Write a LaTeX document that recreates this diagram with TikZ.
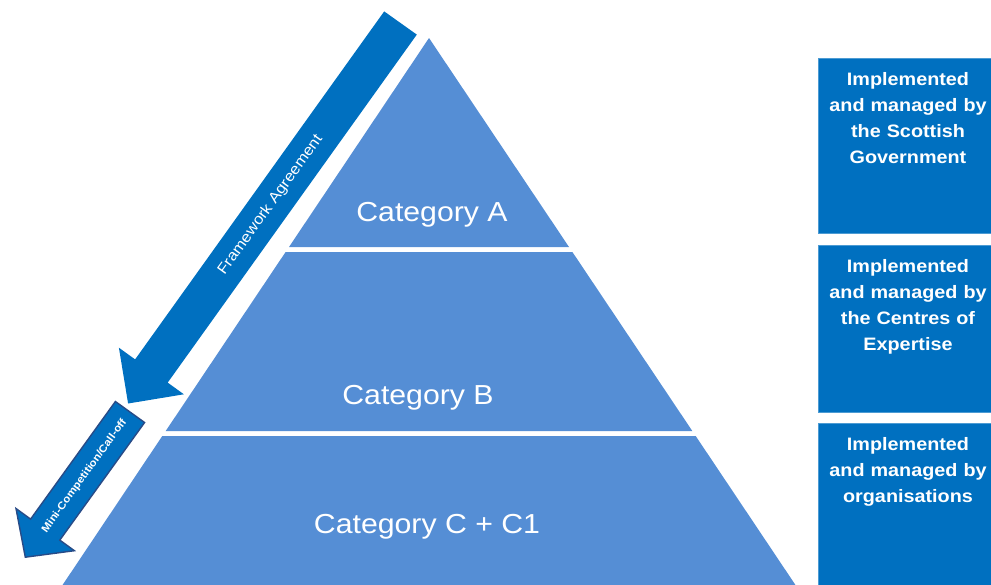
\documentclass[tikz,border=0pt]{standalone}
\usepackage{fontspec}
\setmainfont{Liberation Sans}[FakeStretch=1.1]
\definecolor{pyr}{RGB}{85,142,213}
\definecolor{dblue}{RGB}{0,112,192}
\definecolor{edgeblue}{RGB}{40,75,135}
\tikzset{
  tier/.style={fill=pyr, draw=none},
  bigarrow/.style={fill=dblue, draw=none},
  smallarrow/.style={fill=dblue, draw=edgeblue, line width=1.4pt, line join=miter},
  sidebox/.style={fill=dblue, draw=dblue!70!white, line width=0.6pt},
  cattext/.style={text=white, font=\fontsize{27.5}{30}\selectfont, inner sep=0pt},
  boxtext/.style={text=white, font=\fontsize{18}{26}\selectfont\bfseries, align=center, text width=172pt, anchor=base, inner sep=0pt},
  arrowtext/.style={text=white, inner sep=0pt, rotate=54.2}
}
\begin{document}
\begin{tikzpicture}[x=1pt,y=-1pt]
\useasboundingbox (0,0) rectangle (991,584);
\clip (0,0) rectangle (991,584);
% pyramid tiers
\path[tier] (429,38) -- (569,247) -- (289,247) -- cycle;
\path[tier] (285.6,252) -- (572.4,252) -- (692.3,431) -- (165.7,431) -- cycle;
\path[tier] (162.3,436) -- (695.7,436) -- (805.5,600) -- (52.5,600) -- cycle;
\node[cattext] (catA) at (432,214.5) {Category A};
\node[cattext] (catB) at (418,397.5) {Category B};
\node[cattext] (catC) at (427,526.5) {Category C + C1};
% framework agreement arrow
\path[bigarrow] (384.2,11.4) -- (135.1,359.4) -- (118.9,347.7) -- (128.1,403.5)
  -- (183.9,394.3) -- (167.7,382.6) -- (416.8,34.6) -- cycle;
\node[arrowtext, font=\fontsize{15}{18}\selectfont] (fa) at (270.5,205) {Framework Agreement};
% mini-competition arrow
\path[smallarrow] (115.4,401.5) -- (30.6,519.1) -- (16.0,508.5) -- (25.3,557.2)
  -- (74.4,550.7) -- (59.8,540.1) -- (144.6,422.5) -- cycle;
\node[arrowtext, font=\fontsize{10.5}{13}\selectfont\bfseries] (mc) at (84.5,476) {Mini-Competition/Call-off};
% side boxes
\path[sidebox] (818,58) rectangle (1000,233);
\path[sidebox] (818,245) rectangle (1000,412);
\path[sidebox] (818,423) rectangle (1000,600);
\node[boxtext] (b1) at (908,85) {Implemented\\and managed by\\the Scottish\\Government};
\node[boxtext] (b2) at (908,272) {Implemented\\and managed by\\the Centres of\\Expertise};
\node[boxtext] (b3) at (908,450) {Implemented\\and managed by\\organisations};
\end{tikzpicture}
\end{document}
